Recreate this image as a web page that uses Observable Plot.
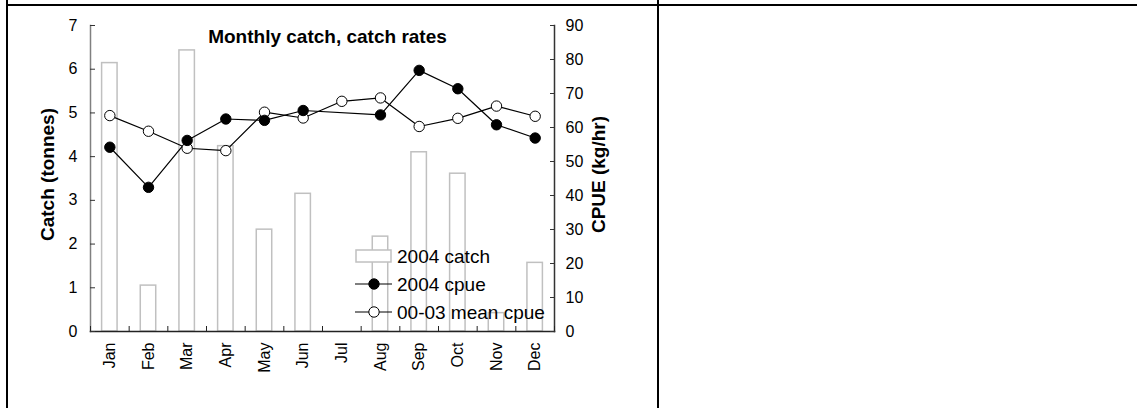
<!DOCTYPE html>
<html><head><meta charset="utf-8">
<script src="https://cdn.jsdelivr.net/npm/d3@7"></script>
<script src="https://cdn.jsdelivr.net/npm/@observablehq/plot@0.6"></script>
<style>
html,body{margin:0;padding:0;background:#fff;}
body{width:1137px;height:408px;position:relative;overflow:hidden;font-family:"Liberation Sans",Arial,sans-serif;}
#chart{position:absolute;left:0;top:0;}
.hline{position:absolute;left:6px;top:4px;width:1131px;height:2px;background:#000;}
.vline{position:absolute;top:0;width:2px;height:408px;background:#000;}
#legend{position:absolute;left:355px;top:242px;font-size:19px;color:#000;line-height:1;}
.row{height:28px;display:flex;align-items:center;}
.row svg{display:block;margin-right:5px;}
</style></head><body>
<div id="chart"></div>
<div class="hline"></div>
<div class="vline" style="left:6px"></div>
<div class="vline" style="left:657px"></div>
<div id="legend"></div>
<script>
const months = ["Jan","Feb","Mar","Apr","May","Jun","Jul","Aug","Sep","Oct","Nov","Dec"];
const catch2004 = [6.14, 1.05, 6.43, 4.24, 2.33, 3.15, null, 2.17, 4.10, 3.61, 0.42, 1.57];
const cpue2004 = [54.2, 42.4, 56.2, 62.5, 62.1, 65.0, null, 63.7, 76.8, 71.4, 60.8, 56.9];
const cpueMean = [63.5, 58.9, 53.9, 53.2, 64.5, 62.8, 67.7, 68.7, 60.3, 62.7, 66.3, 63.3];
const catchTicks = [0,1,2,3,4,5,6,7];
const cpueTicks = [0,10,20,30,40,50,60,70,80,90];
const seriesNames = ["2004 catch", "2004 cpue", "00-03 mean cpue"];

const k = 7 / 90; // cpue -> catch-axis units
const rows = months.map((m, i) => ({i, month: m, catch: catch2004[i], cpue: cpue2004[i], mean: cpueMean[i]}));
const barRows = rows.filter(d => d.catch != null);
const cpueRows = rows.filter(d => d.cpue != null);
const tickFont = 16;

const chart = Plot.plot({
  width: 657, height: 408,
  marginLeft: 90, marginRight: 103, marginTop: 25, marginBottom: 77,
  style: {fontFamily: '"Liberation Sans", Arial, sans-serif', fontSize: "16px", color: "#000", background: "transparent"},
  x: {domain: [-0.5, 11.5], axis: null},
  y: {domain: [0, 7], axis: null},
  marks: [
    Plot.rectY(barRows, {x1: d => d.i - 0.2, x2: d => d.i + 0.2, y1: 0, y2: "catch", fill: "#fff", stroke: "#c0c0c0", strokeWidth: 1.5}),
    Plot.frame({anchor: "left", stroke: "#808080", strokeWidth: 1.5}),
    Plot.frame({anchor: "bottom", stroke: "#222", strokeWidth: 1.5}),
    Plot.frame({anchor: "right", stroke: "#333", strokeWidth: 1.5}),
    // tick marks (inward)
    Plot.axisY(catchTicks, {anchor: "left", label: null, tickSize: -5, tickFormat: () => "", stroke: "#333"}),
    Plot.axisY(cpueTicks.map(v => v * k), {anchor: "right", label: null, tickSize: -5, tickFormat: () => "", stroke: "#333"}),
    Plot.axisX(d3.range(-0.5, 12, 1), {anchor: "bottom", label: null, tickSize: -5, tickFormat: () => "", stroke: "#222"}),
    // tick labels
    Plot.text(catchTicks, {frameAnchor: "left", y: d => d, text: d => String(d), textAnchor: "end", lineAnchor: "middle", dx: -13, fontSize: tickFont, fill: "#000"}),
    Plot.text(cpueTicks, {frameAnchor: "right", y: d => d * k, text: d => String(d), textAnchor: "start", lineAnchor: "middle", dx: 11, fontSize: tickFont, fill: "#000"}),
    Plot.text(months, {frameAnchor: "bottom", x: (d, i) => i, text: d => d, rotate: -90, textAnchor: "end", lineAnchor: "middle", dy: 11, fontSize: tickFont, fill: "#000"}),
    Plot.line(rows, {x: "i", y: d => d.mean * k, stroke: "#000", strokeWidth: 1.2}),
    Plot.line(cpueRows, {x: "i", y: d => d.cpue * k, stroke: "#000", strokeWidth: 1.2}),
    Plot.dot(rows, {x: "i", y: d => d.mean * k, r: 5.2, fill: "#fff", stroke: "#000", strokeWidth: 1}),
    Plot.dot(cpueRows, {x: "i", y: d => d.cpue * k, r: 5.2, fill: "#000", stroke: "#000", strokeWidth: 1}),
    Plot.text(["Monthly catch, catch rates"], {frameAnchor: "top", lineAnchor: "middle", dy: 11, dx: 5, fontSize: 19, fontWeight: "bold", fill: "#000"}),
    Plot.text(["Catch (tonnes)"], {frameAnchor: "left", textAnchor: "middle", lineAnchor: "middle", rotate: -90, dx: -43, dy: -4, fontSize: 19, fontWeight: "bold", fill: "#000"}),
    Plot.text(["CPUE (kg/hr)"], {frameAnchor: "right", textAnchor: "middle", lineAnchor: "middle", rotate: -90, dx: 44, dy: -4, fontSize: 19, fontWeight: "bold", fill: "#000"})
  ]
});
document.getElementById("chart").appendChild(chart);

const legend = document.getElementById("legend");
const swatches = [
  '<svg width="37" height="28"><rect x="1" y="8" width="35" height="12" fill="#fff" stroke="#c0c0c0" stroke-width="1.5"/></svg>',
  '<svg width="37" height="28"><line x1="0" y1="14" x2="37" y2="14" stroke="#000" stroke-width="1.2"/><circle cx="19" cy="14" r="5.2" fill="#000" stroke="#000"/></svg>',
  '<svg width="37" height="28"><line x1="0" y1="14" x2="37" y2="14" stroke="#000" stroke-width="1.2"/><circle cx="19" cy="14" r="5.2" fill="#fff" stroke="#000"/></svg>'
];
seriesNames.forEach((name, j) => {
  const row = document.createElement("div");
  row.className = "row";
  row.innerHTML = swatches[j] + "<span>" + name + "</span>";
  legend.appendChild(row);
});
</script>
</body></html>
